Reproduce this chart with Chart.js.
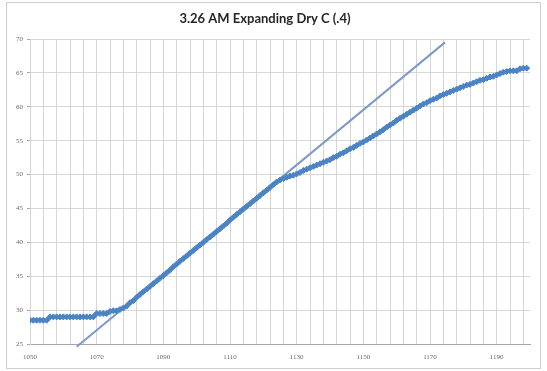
<!DOCTYPE html>
<html>
<head>
<meta charset="utf-8">
<script src="https://cdn.jsdelivr.net/npm/chart.js@4.4.1/dist/chart.umd.min.js"></script>
<style>
  html, body { margin: 0; padding: 0; background: #ffffff; }
  #wrap { position: relative; width: 547px; height: 371px; }
</style>
</head>
<body>
<div id="wrap"><canvas id="c" width="547" height="371"></canvas></div>
<script>
// ---- data ----
const chartTitle = "3.26 AM Expanding Dry C (.4)";

const xValues = [
  1050,1051,1052,1053,1054,1055,1056,1057,1058,1059,
  1060,1061,1062,1063,1064,1065,1066,1067,1068,1069,
  1070,1071,1072,1073,1074,1075,1076,1077,1078,1079,
  1080,1081,1082,1083,1084,1085,1086,1087,1088,1089,
  1090,1091,1092,1093,1094,1095,1096,1097,1098,1099,
  1100,1101,1102,1103,1104,1105,1106,1107,1108,1109,
  1110,1111,1112,1113,1114,1115,1116,1117,1118,1119,
  1120,1121,1122,1123,1124,1125,1126,1127,1128,1129,
  1130,1131,1132,1133,1134,1135,1136,1137,1138,1139,
  1140,1141,1142,1143,1144,1145,1146,1147,1148,1149,
  1150,1151,1152,1153,1154,1155,1156,1157,1158,1159,
  1160,1161,1162,1163,1164,1165,1166,1167,1168,1169,
  1170,1171,1172,1173,1174,1175,1176,1177,1178,1179,
  1180,1181,1182,1183,1184,1185,1186,1187,1188,1189,
  1190,1191,1192,1193,1194,1195,1196,1197,1198,1199
];

const tempValues = [
  28.5,28.5,28.5,28.5,28.5,28.5,29.0,29.0,29.0,29.0,
  29.0,29.0,29.0,29.0,29.0,29.0,29.0,29.0,29.0,29.0,
  29.5,29.5,29.5,29.5,29.8,29.9,29.9,30.1,30.3,30.6,
  31.1,31.4,31.9,32.3,32.7,33.1,33.5,33.9,34.3,34.7,
  35.1,35.5,35.9,36.4,36.8,37.2,37.6,38.0,38.4,38.8,
  39.2,39.6,40.0,40.4,40.8,41.2,41.6,42.0,42.4,42.8,
  43.3,43.7,44.1,44.5,44.9,45.3,45.7,46.1,46.5,46.9,
  47.3,47.7,48.1,48.5,48.9,49.2,49.4,49.6,49.8,49.9,
  50.1,50.3,50.6,50.8,51.0,51.2,51.4,51.6,51.8,52.0,
  52.2,52.5,52.7,53.0,53.2,53.5,53.8,54.0,54.3,54.6,
  54.8,55.1,55.4,55.7,56.0,56.3,56.6,57.0,57.3,57.6,
  58.0,58.3,58.6,58.9,59.2,59.5,59.8,60.1,60.4,60.6,
  60.9,61.1,61.3,61.6,61.8,62.0,62.2,62.4,62.6,62.8,
  63.0,63.2,63.3,63.5,63.7,63.9,64.0,64.2,64.4,64.5,
  64.7,64.9,65.1,65.2,65.3,65.3,65.3,65.6,65.7,65.7
];

// straight reference line (slope ~0.4)
const trendX = [1064.0, 1174.5];
const trendY = [24.6, 69.5];

// axis labels
const xTickLabels = [1050, 1070, 1090, 1110, 1130, 1150, 1170, 1190];
const yTickLabels = [25, 30, 35, 40, 45, 50, 55, 60, 65, 70];
const xGridStep = 4;
const xMin = 1050, xMax = 1200;
const yMin = 25, yMax = 70;

// ---- build chart ----
const seriesPts = xValues.map((x, i) => ({ x: x, y: tempValues[i] }));
const trendPts = trendX.map((x, i) => ({ x: x, y: trendY[i] }));

const framePlugin = {
  id: 'frame',
  beforeDraw(chart) {
    const ctx = chart.ctx;
    ctx.save();
    ctx.fillStyle = '#ffffff';
    ctx.fillRect(0, 0, chart.width, chart.height);
    ctx.strokeStyle = '#cfcfcf';
    ctx.lineWidth = 1;
    ctx.strokeRect(6.5, 2.5, 534, 366);
    ctx.restore();
  }
};

new Chart(document.getElementById('c'), {
  type: 'scatter',
  data: {
    datasets: [
      {
        label: 'Temp',
        data: seriesPts,
        showLine: true,
        borderColor: '#4a84c4',
        backgroundColor: '#4a84c4',
        borderWidth: 2,
        pointStyle: 'rectRot',
        pointRadius: 3,
        pointBorderWidth: 1,
        pointHoverRadius: 3,
        order: 1
      },
      {
        label: 'Trend',
        data: trendPts,
        showLine: true,
        borderColor: '#7f99c6',
        backgroundColor: '#7f99c6',
        borderWidth: 2,
        pointRadius: 0,
        clip: false,
        order: 2
      }
    ]
  },
  options: {
    responsive: false,
    animation: false,
    devicePixelRatio: 1,
    layout: { padding: { left: 0, right: 17, top: 0, bottom: 0 } },
    plugins: {
      legend: { display: false },
      tooltip: { enabled: false },
      title: {
        display: true,
        text: chartTitle,
        color: '#262626',
        font: { family: 'Lato', size: 13, weight: 'bold', lineHeight: 1.2 },
        padding: { top: 11, bottom: 12.4 }
      }
    },
    scales: {
      x: {
        type: 'linear',
        min: xMin,
        max: xMax,
        afterBuildTicks(scale) {
          const t = [];
          for (let v = xMin; v <= xMax - 1; v += xGridStep) t.push({ value: v });
          scale.ticks = t;
        },
        afterFit(scale) { scale.height = 27; },
        grid: {
          color: '#d6d6d6',
          lineWidth: 1,
          drawTicks: false
        },
        border: { color: '#a6a6a6', width: 1 },
        ticks: {
          autoSkip: false,
          maxRotation: 0,
          padding: 9,
          color: '#6a6a6a',
          font: { family: 'Liberation Serif', size: 7 },
          callback(v) { return xTickLabels.includes(v) ? String(v) : ''; }
        }
      },
      y: {
        type: 'linear',
        min: yMin,
        max: yMax,
        afterBuildTicks(scale) {
          scale.ticks = yTickLabels.map(v => ({ value: v }));
        },
        afterFit(scale) { scale.width = 30; },
        grid: {
          color: '#d6d6d6',
          lineWidth: 1,
          drawTicks: true,
          tickLength: 3,
          tickColor: '#a6a6a6'
        },
        border: { color: '#d6d6d6', width: 1 },
        ticks: {
          padding: 4,
          color: '#6a6a6a',
          font: { family: 'Liberation Serif', size: 7 },
          callback(v) { return String(v); }
        }
      }
    }
  },
  plugins: [framePlugin]
});
</script>
</body>
</html>
